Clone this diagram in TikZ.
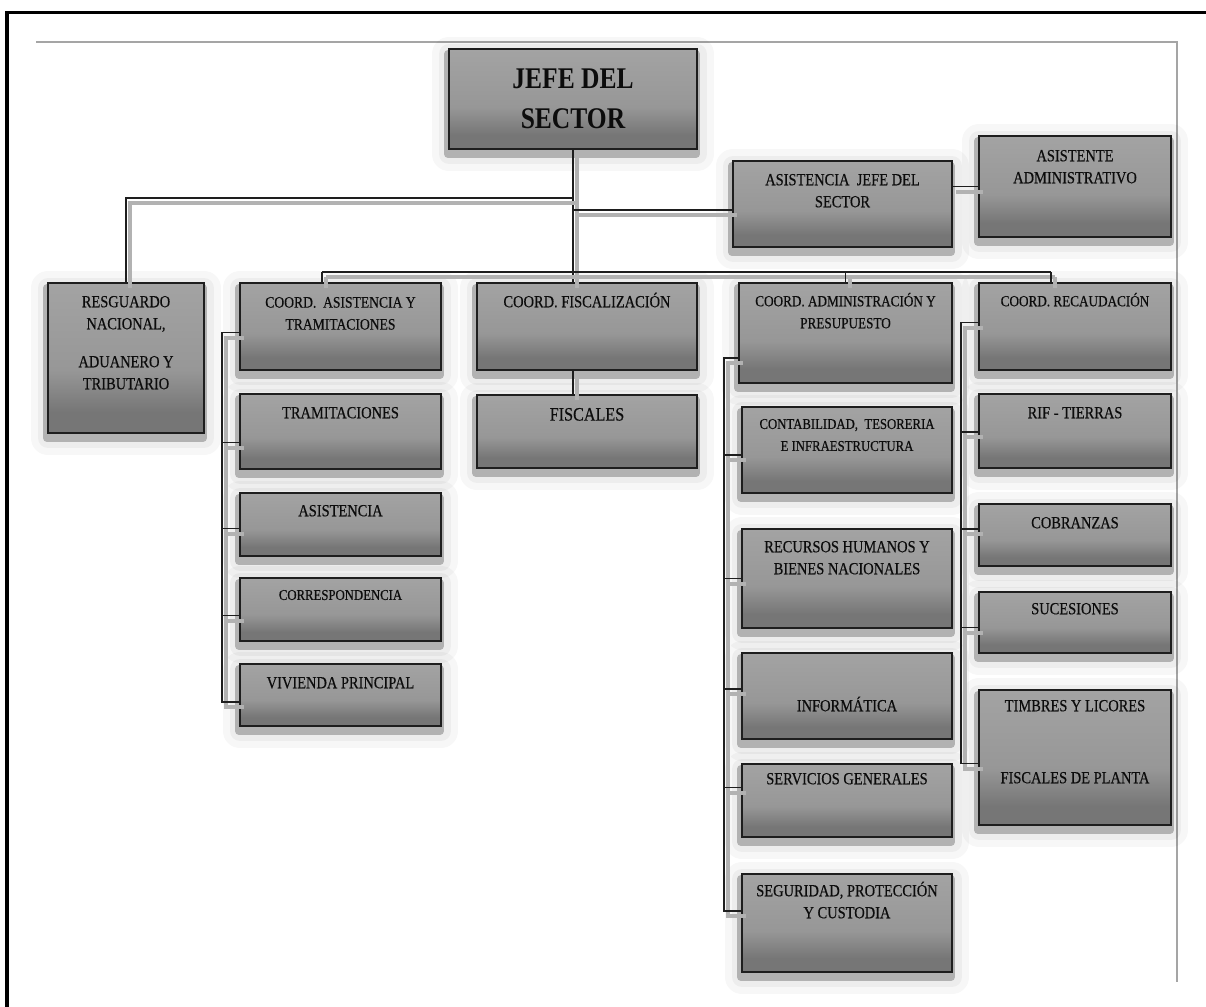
\documentclass[tikz,border=0pt]{standalone}
\usepackage{fontspec}
\newfontfamily\cf[FakeStretch=0.85,FakeBold=0.45]{Liberation Serif}
\newfontfamily\cfb[FakeStretch=0.85]{Liberation Serif}
\usetikzlibrary{calc}
\definecolor{stop}{RGB}{163,163,163}
\definecolor{smid}{RGB}{151,151,151}
\definecolor{sdark}{RGB}{118,118,118}
\definecolor{bline}{RGB}{30,30,30}
\definecolor{halo}{RGB}{178,178,178}
\definecolor{cshadow}{RGB}{178,178,178}
\definecolor{frameg}{RGB}{165,165,165}
\definecolor{txt}{RGB}{12,12,12}
\pgfdeclareverticalshading{boxshade}{100bp}{color(0bp)=(sdark); color(25bp)=(sdark); color(32bp)=(sdark); color(46bp)=(smid); color(75bp)=(stop); color(100bp)=(stop)}
\tikzset{
  obox/.style={draw=bline, line width=1.6pt, shading=boxshade,
    preaction={draw=black, draw opacity=0.03, line width=34pt, line join=round, transform canvas={yshift=-5pt}},
    preaction={draw=black, draw opacity=0.04, line width=20pt, line join=round, transform canvas={yshift=-5pt}},
    preaction={draw=halo, fill=halo, line width=8pt, line join=round, transform canvas={xshift=-1pt, yshift=-5pt}}},
  otext/.style={align=center, text=txt, anchor=north},
  conn/.style={draw=bline, line width=1.6pt,
    preaction={draw=cshadow, line width=4pt, transform canvas={xshift=4pt, yshift=-5pt}}}
}
\newcommand\obox[8]{%
  \node[obox, minimum width={#4-#2}, minimum height={#5-#3}] (#1) at ({(#2+#4)/2},{(#3+#5)/2}) {};
  \node[otext, font=\cf\fontsize{#7}{22}\selectfont] (#1t) at ([yshift={-#6-0.662*#7+16}]#1.north) {\rule{0pt}{16pt}#8};
}
\begin{document}
\begin{tikzpicture}[x=1pt,y=-1pt, every node/.style={inner sep=0pt, outer sep=0pt}]
\useasboundingbox[fill=white] (0,0) rectangle (1206,1006);
% frames
\draw[line width=3.6pt] (7,1010) -- (7,12.5) -- (1210,12.5);
\draw[draw=frameg, line width=1.5pt] (36,42) -- (1177,42) -- (1177,982);

% boxes
\node[obox, minimum width=248, minimum height=100] (jefe) at (573,99) {};
\node[otext, font=\cfb\bfseries\fontsize{30}{40}\selectfont] (jefet) at ([yshift=-11.3pt]jefe.north) {\rule{0pt}{28pt}JEFE DEL\\SECTOR};

\obox{asj}{733}{161}{952}{247}{13}{17}{ASISTENCIA\ \ JEFE DEL\\SECTOR}
\obox{asa}{979}{136}{1171}{237}{14}{17}{ASISTENTE\\ADMINISTRATIVO}
\obox{res}{48}{283}{204}{433}{13}{17}{RESGUARDO\\NACIONAL,\\[16pt]ADUANERO Y\\TRIBUTARIO}
\obox{cas}{240}{283}{441}{370}{14}{16}{COORD.\ \ ASISTENCIA Y\\TRAMITACIONES}
\obox{tra}{240}{394}{441}{469}{13}{17}{TRAMITACIONES}
\obox{asi}{240}{493}{441}{556}{12}{17}{ASISTENCIA}
\obox{cor}{240}{578}{441}{641}{12}{15}{CORRESPONDENCIA}
\obox{viv}{240}{664}{441}{726}{13}{17}{VIVIENDA PRINCIPAL}
\obox{cfi}{477}{283}{697}{370}{13}{17}{COORD. FISCALIZACIÓN}
\obox{fis}{477}{395}{697}{468}{13}{19}{FISCALES}
\obox{cad}{739}{283}{952}{383}{13}{15.5}{COORD. ADMINISTRACIÓN Y\\PRESUPUESTO}
\obox{con}{742}{407}{952}{493}{12}{15}{CONTABILIDAD,\ \ TESORERIA\\E INFRAESTRUCTURA}
\obox{rrh}{742}{529}{952}{628}{12}{17}{RECURSOS HUMANOS Y\\BIENES NACIONALES}
\obox{inf}{742}{653}{952}{739}{47}{17}{INFORMÁTICA}
\obox{ser}{742}{764}{952}{837}{9}{17}{SERVICIOS GENERALES}
\obox{seg}{742}{874}{952}{972}{11}{17}{SEGURIDAD, PROTECCIÓN\\Y CUSTODIA}
\obox{cre}{979}{283}{1171}{370}{13}{15.5}{COORD. RECAUDACIÓN}
\obox{rif}{979}{394}{1171}{468}{13}{17}{RIF - TIERRAS}
\obox{cob}{979}{504}{1171}{566}{13}{17}{COBRANZAS}
\obox{suc}{979}{592}{1171}{653}{11}{17}{SUCESIONES}
\obox{tim}{979}{690}{1171}{825}{10}{17}{TIMBRES Y LICORES\\[50pt]FISCALES DE PLANTA}

% helper coordinates
\coordinate (sp1) at (222,0);
\coordinate (sp2) at (724,0);
\coordinate (sp3) at (961,0);
\coordinate (lvl1) at (0,198);
\coordinate (brL) at (322,272);
\coordinate (brR) at (1051,272);
\coordinate (asjin) at ([yshift=-6pt]asj.west);

\coordinate (a0) at ([yshift=-6pt]cas.west);
\coordinate (a1) at ([yshift=-11pt]tra.west);
\coordinate (a2) at ([yshift=-4pt]asi.west);
\coordinate (a3) at ([yshift=-6pt]cor.west);
\coordinate (a4) at ([yshift=-7pt]viv.west);

\coordinate (b0) at ([yshift=-25pt]cad.west);
\coordinate (b1) at ([yshift=-5pt]con.west);
\coordinate (b2) at (rrh.west);
\coordinate (b3) at ([yshift=7pt]inf.west);
\coordinate (b4) at ([yshift=13pt]ser.west);
\coordinate (b5) at ([yshift=12pt]seg.west);

\coordinate (c0) at ([yshift=4pt]cre.west);
\coordinate (c1) at ([yshift=-1pt]rif.west);
\coordinate (c2) at ([yshift=6pt]cob.west);
\coordinate (c3) at ([yshift=-5pt]suc.west);
\coordinate (c4) at ([yshift=-6pt]tim.west);

% connectors
\draw[conn] (jefe.south) -- (jefe.south |- cfi.north);
\draw[conn] (jefe.south |- lvl1) -| (res.north);
\draw[conn] (asjin -| jefe.south) -- (asjin);
\draw[conn] (asa.west -| asj.east) -- (asa.west);
\draw[conn] (brL) -- (brR);
\draw[conn] (brL) -- (brL |- cas.north);
\draw[conn] (cad.north |- brR) -- (cad.north);
\draw[conn] (brR) -- (brR |- cre.north);
\draw[conn] (cfi.south -| jefe.south) -- (fis.north -| jefe.south);

\draw[conn] (a0) -- (a0 -| sp1) |- (a4);
\draw[conn] (a1 -| sp1) -- (a1);
\draw[conn] (a2 -| sp1) -- (a2);
\draw[conn] (a3 -| sp1) -- (a3);

\draw[conn] (b0) -- (b0 -| sp2) |- (b5);
\draw[conn] (b1 -| sp2) -- (b1);
\draw[conn] (b2 -| sp2) -- (b2);
\draw[conn] (b3 -| sp2) -- (b3);
\draw[conn] (b4 -| sp2) -- (b4);

\draw[conn] (c0) -- (c0 -| sp3) |- (c4);
\draw[conn] (c1 -| sp3) -- (c1);
\draw[conn] (c2 -| sp3) -- (c2);
\draw[conn] (c3 -| sp3) -- (c3);
\end{tikzpicture}
\end{document}
